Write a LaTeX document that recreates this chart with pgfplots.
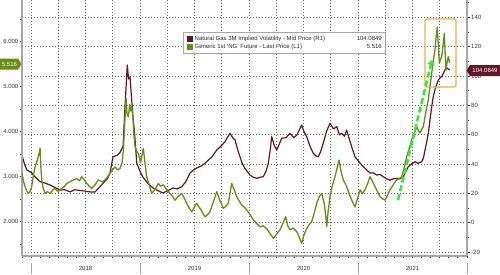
\documentclass[border=0pt]{standalone}
\usepackage{pgfplots}
\pgfplotsset{compat=1.18}
\usetikzlibrary{arrows.meta}
\usepackage{fontspec}
\setmainfont{Liberation Sans}
\definecolor{ngreen}{RGB}{98,142,22}
\definecolor{maroon}{RGB}{98,22,38}
\definecolor{gold}{RGB}{232,176,70}
\definecolor{arrowgreen}{RGB}{60,230,60}

\pgfplotstableread{
x y
2017.917 46
2017.940 40
2017.961 36
2017.985 35
2018.006 34
2018.040 31
2018.083 28
2018.130 27
2018.174 25.7
2018.220 24
2018.266 22.3
2018.310 22.5
2018.358 21
2018.400 22.5
2018.450 22
2018.500 21.5
2018.541 21
2018.587 21
2018.625 24
2018.661 27
2018.700 30
2018.725 34
2018.752 45
2018.790 46
2018.817 48
2018.844 52
2018.862 79
2018.883 107.6
2018.895 98
2018.908 99.6
2018.922 85
2018.936 72
2018.950 61
2018.970 40.7
2019.000 35
2019.028 31
2019.070 27
2019.119 23.7
2019.160 22
2019.211 20.3
2019.260 22
2019.303 23.7
2019.340 23
2019.383 24.6
2019.420 28
2019.459 33.9
2019.490 36
2019.520 37.3
2019.570 39
2019.612 41.6
2019.660 45
2019.704 49.6
2019.740 52
2019.780 55.3
2019.800 58
2019.826 61
2019.850 58
2019.872 56.4
2019.895 50
2019.917 45
2019.940 40
2019.963 37
2020.009 32.5
2020.040 31
2020.071 30.3
2020.100 31
2020.131 31.4
2020.155 35
2020.177 40.5
2020.195 50
2020.208 58.7
2020.230 53
2020.254 49.6
2020.280 54
2020.300 57.6
2020.340 58
2020.376 61
2020.410 58
2020.438 59.8
2020.460 63
2020.483 66.6
2020.505 62
2020.529 58.7
2020.560 52
2020.590 47.3
2020.615 45.5
2020.636 45
2020.660 49
2020.681 54.2
2020.710 62
2020.743 67.8
2020.775 64
2020.805 65.5
2020.830 60
2020.850 61
2020.875 59
2020.896 63.2
2020.920 57
2020.942 51.8
2020.972 45
2021.018 40.7
2021.065 37
2021.110 33.9
2021.140 34
2021.172 32.5
2021.200 33
2021.232 31.4
2021.260 30
2021.294 29
2021.325 30
2021.355 30.3
2021.385 30
2021.416 31.4
2021.440 35
2021.461 38.2
2021.490 40
2021.523 41.6
2021.550 40.5
2021.584 41.6
2021.600 44
2021.615 49.6
2021.630 55
2021.645 61
2021.660 70
2021.676 79
2021.690 86
2021.706 90.5
2021.720 94
2021.737 97.3
2021.755 99
2021.771 100
2021.790 103
2021.807 106
2021.825 105
2021.840 104.0849
}\volat

\pgfplotstableread{
x y
2017.917 3.07
2017.930 2.90
2017.945 2.77
2017.960 2.68
2017.975 2.62
2017.990 2.66
2018.006 2.77
2018.020 3.00
2018.037 3.21
2018.050 3.30
2018.067 3.44
2018.075 3.52
2018.083 3.62
2018.090 3.20
2018.098 2.92
2018.110 2.75
2018.128 2.62
2018.150 2.66
2018.174 2.62
2018.200 2.70
2018.220 2.73
2018.245 2.66
2018.266 2.70
2018.300 2.76
2018.328 2.84
2018.360 2.88
2018.388 2.92
2018.420 2.95
2018.445 2.90
2018.465 2.99
2018.490 2.92
2018.511 2.84
2018.535 2.78
2018.557 2.73
2018.590 2.82
2018.617 2.92
2018.650 2.88
2018.679 2.92
2018.700 2.98
2018.725 3.07
2018.750 3.15
2018.771 3.21
2018.795 3.14
2018.817 3.18
2018.835 3.30
2018.847 3.58
2018.860 4.20
2018.872 4.73
2018.880 4.40
2018.893 4.32
2018.905 4.60
2018.915 4.45
2018.924 4.55
2018.936 4.25
2018.945 3.90
2018.954 3.66
2018.970 3.55
2018.984 3.51
2019.005 3.30
2019.020 3.50
2019.030 3.62
2019.045 3.30
2019.061 2.99
2019.085 2.80
2019.107 2.62
2019.135 2.70
2019.168 2.84
2019.190 2.78
2019.214 2.81
2019.245 2.70
2019.275 2.62
2019.300 2.55
2019.321 2.47
2019.350 2.55
2019.383 2.62
2019.405 2.52
2019.428 2.40
2019.450 2.30
2019.474 2.21
2019.500 2.32
2019.520 2.40
2019.560 2.25
2019.596 2.10
2019.620 2.15
2019.642 2.21
2019.675 2.45
2019.704 2.66
2019.735 2.45
2019.764 2.29
2019.790 2.34
2019.810 2.40
2019.825 2.62
2019.841 2.84
2019.865 2.70
2019.887 2.55
2019.910 2.45
2019.933 2.36
2019.955 2.32
2019.979 2.25
2020.010 2.15
2020.039 2.03
2020.070 1.95
2020.101 1.88
2020.130 1.90
2020.162 1.84
2020.195 1.72
2020.223 1.62
2020.255 1.72
2020.284 1.81
2020.310 1.95
2020.337 2.10
2020.355 1.90
2020.376 1.81
2020.405 1.85
2020.438 1.77
2020.460 1.65
2020.483 1.51
2020.505 1.70
2020.529 1.84
2020.550 1.92
2020.575 1.99
2020.600 2.20
2020.621 2.40
2020.645 2.55
2020.667 2.62
2020.690 2.40
2020.705 2.10
2020.713 1.88
2020.725 2.20
2020.743 2.55
2020.765 2.80
2020.789 2.99
2020.805 3.15
2020.826 3.36
2020.845 3.10
2020.865 2.92
2020.880 2.85
2020.896 2.77
2020.920 2.60
2020.942 2.47
2020.960 2.38
2020.972 2.32
2020.995 2.50
2021.018 2.70
2021.040 2.62
2021.064 2.70
2021.090 2.85
2021.110 2.99
2021.135 2.88
2021.156 2.77
2021.180 2.65
2021.202 2.55
2021.225 2.50
2021.248 2.47
2021.270 2.58
2021.294 2.70
2021.325 2.82
2021.355 2.92
2021.380 2.95
2021.401 2.99
2021.425 3.20
2021.447 3.44
2021.470 3.62
2021.493 3.81
2021.515 3.95
2021.539 4.10
2021.555 4.02
2021.569 3.96
2021.585 4.05
2021.599 4.10
2021.620 4.40
2021.645 4.70
2021.660 5.00
2021.676 5.29
2021.690 5.55
2021.706 5.81
2021.715 6.05
2021.727 6.32
2021.737 5.90
2021.746 5.51
2021.757 5.60
2021.768 5.66
2021.780 5.90
2021.792 6.18
2021.800 5.70
2021.807 5.36
2021.818 5.55
2021.829 5.66
2021.840 5.516
}\ngfut

\begin{document}
\begin{tikzpicture}[font=\fontsize{6}{7}\selectfont]
\path[use as bounding box] (-22pt,-18pt) rectangle (478pt,256pt);
% grid (drawn in an axis of its own, below the series)
\begin{axis}[
  at={(0,0)}, anchor=south west,
  scale only axis, width=445pt, height=256pt,
  xmin=2017.917, xmax=2022.0,
  ymin=-22.7, ymax=151.9,
  axis line style={draw=none},
  tick style={draw=none},
  xticklabels={}, yticklabels={},
  xtick={2018,2018.25,...,2022},
  ytick={-20,0,20,40,60,80,100,120,140},
  xmajorgrids, ymajorgrids,
  major grid style={black!60, line width=0.9pt, dash pattern=on 1.2pt off 1.8pt},
]
\addplot[draw=none, forget plot] coordinates {(2018,0)};
\end{axis}
% right axis: implied volatility (maroon)
\begin{axis}[
  at={(0,0)}, anchor=south west,
  scale only axis, width=445pt, height=256pt,
  xmin=2017.917, xmax=2022.0,
  ymin=-22.7, ymax=151.9,
  axis y line*=right, axis x line*=bottom,
  axis line style={gray!70, line width=1.1pt},
  tick align=outside,
  tick style={black!80, line width=0.6pt},
  major tick length=2.5pt, minor tick length=2pt,
  ytick={-20,0,20,40,60,80,100,120,140},
  minor ytick={-10,10,30,50,70,90,110,130,150},
  xtick={2018.5,2019.5,2020.5,2021.5},
  xticklabels={2018,2019,2020,2021},
  major x tick style={draw=none},
  minor xtick={2017.9167,2018.0,2018.0833,...,2022.0},
  xticklabel style={yshift=-4.5pt, text=black!80},
  yticklabel style={text=black!80, inner sep=1.5pt},
  ticklabel style={font=\fontsize{6}{7}\selectfont},
  /pgf/number format/assume math mode=true,
  clip=true,
]
\addplot[maroon, line width=1.2pt, line join=round] table[x=x,y=y] {\volat};
\end{axis}
% left axis: NG future (green)
\begin{axis}[
  at={(0,0)}, anchor=south west,
  scale only axis, width=445pt, height=256pt,
  xmin=2017.917, xmax=2022.0,
  ymin=1.229, ymax=6.918,
  axis y line*=left, axis x line=none,
  axis line style={gray!70, line width=1.1pt},
  tick align=outside,
  tick style={black!80, line width=0.6pt},
  major tick length=2.5pt, minor tick length=2pt,
  xtick=\empty,
  ytick={2,3,4,5,6},
  minor ytick={1.5,2.5,3.5,4.5,5.5,6.5},
  yticklabel style={text=black!80, inner sep=1pt, /pgf/number format/.cd, fixed, fixed zerofill, precision=3, assume math mode=true},
  ticklabel style={font=\fontsize{6}{7}\selectfont},
]
\addplot[ngreen, line width=1.3pt, line join=round] table[x=x,y=y] {\ngfut};
\end{axis}
% annotations
\draw[gold, line width=1.4pt, rounded corners=2pt] (403pt,169pt) rectangle (434pt,237pt);
\draw[arrowgreen, line width=2.6pt, dash pattern=on 6pt off 3pt, -{Triangle[length=5pt,width=7pt]}] (376pt,56pt) -- (410pt,196pt);
% legend
\draw[gray!70, fill=white, line width=0.5pt] (161pt,203pt) rectangle (363pt,224pt);
\fill[maroon] (165pt,214.5pt) rectangle (170.5pt,220pt);
\fill[ngreen] (165pt,206.5pt) rectangle (170.5pt,212pt);
\node[anchor=west, inner sep=0pt, text=black!85] at (172.5pt,217.3pt) {Natural Gas 3M Implied Volatility - Mid Price (R1)};
\node[anchor=west, inner sep=0pt, text=black!85] at (172.5pt,209.3pt) {Generic 1st 'NG' Future - Last Price (L1)};
\node[anchor=east, inner sep=0pt, text=black!85] at (360pt,217.3pt) {104.0849};
\node[anchor=east, inner sep=0pt, text=black!85] at (360pt,209.3pt) {5.516};
% value badges
\fill[ngreen] (-22pt,186.5pt) -- (-4pt,186.5pt) -- (-0.5pt,192pt) -- (-4pt,197.5pt) -- (-22pt,197.5pt) -- cycle;
\node[text=white, inner sep=0pt] at (-12.5pt,192pt) {5.516};
\fill[maroon] (444.5pt,185.5pt) -- (448pt,191pt) -- (478pt,191pt) -- (478pt,180pt) -- (448pt,180pt) -- cycle;
\node[text=white, inner sep=0pt] at (463pt,185.5pt) {104.0849};
% year separators
\foreach \xx in {9,118,227,336,445} {\draw[gray!70, line width=0.6pt] (\xx pt,-7pt) -- (\xx pt,-18pt);}
\end{tikzpicture}
\end{document}
